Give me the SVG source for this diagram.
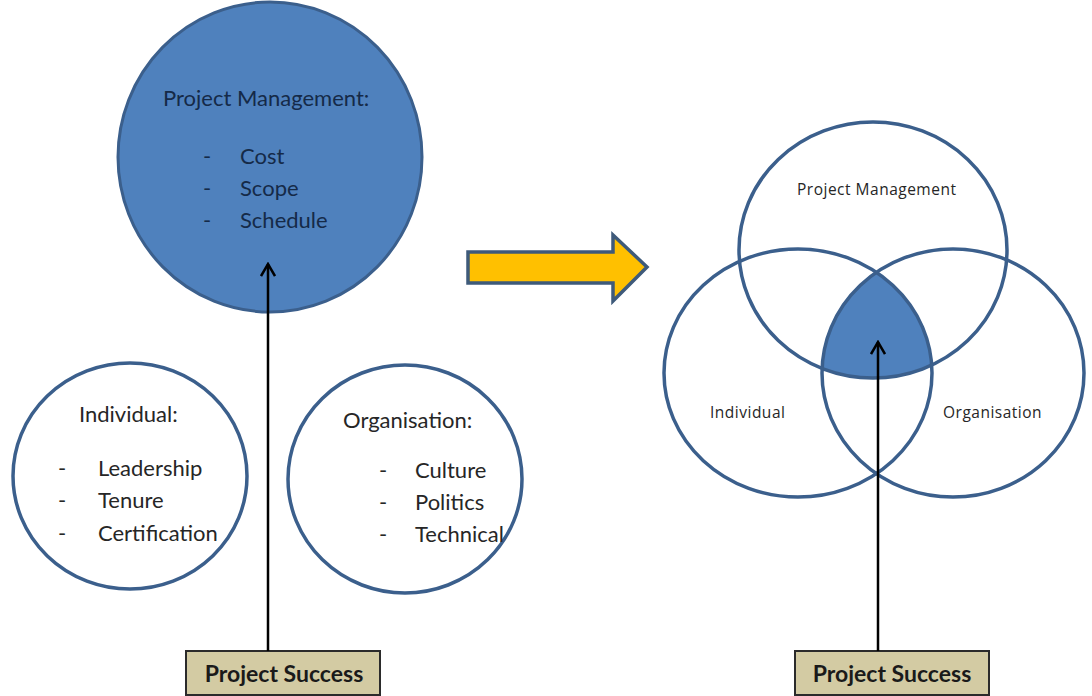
<svg xmlns="http://www.w3.org/2000/svg" width="1092" height="696" viewBox="0 0 1092 696">
  <defs>
    <style>
      .ring { fill: none; stroke: #3b5f8c; stroke-width: 3.5; }
      .solid { fill: #4f81bd; stroke: #3b5f8c; stroke-width: 3; }
      .lbl { font-family: Lato, "Liberation Sans", sans-serif; font-size: 22px; fill: #262626; }
      .lbl-in { font-family: Lato, "Liberation Sans", sans-serif; font-size: 22px; fill: #152a48; }
      .venn { font-family: "Open Sans", "Liberation Sans", sans-serif; font-size: 15.5px; letter-spacing: 0.5px; fill: #262626; }
      .box { fill: #d3cba3; stroke: #2b2b2b; stroke-width: 2; }
      .boxtxt { font-family: Lato, "Liberation Sans", sans-serif; font-size: 23px; font-weight: bold; fill: #1a1a1a; text-anchor: middle; }
      .conn { fill: none; stroke: #000; stroke-width: 2.5; }
    </style>
    <marker id="openArrow" viewBox="0 0 16 16" refX="14" refY="8" markerWidth="16" markerHeight="16" markerUnits="userSpaceOnUse" orient="auto">
      <path d="M2,1 L14,8 L2,15" fill="none" stroke="#000" stroke-width="2.5"/>
    </marker>
    <clipPath id="clipInd"><ellipse cx="798" cy="373" rx="134" ry="124"/></clipPath>
    <clipPath id="clipOrg"><ellipse cx="953" cy="373" rx="131" ry="124"/></clipPath>
  </defs>

  <rect width="1092" height="696" fill="#ffffff"/>

  <!-- Left: separate factors -->
  <g id="pm-circle">
    <ellipse class="solid" cx="270" cy="157" rx="152" ry="155"/>
    <text class="lbl-in" x="163" y="106">Project Management:</text>
    <text class="lbl-in" x="203" y="164">-</text>
    <text class="lbl-in" x="240" y="164">Cost</text>
    <text class="lbl-in" x="203" y="196">-</text>
    <text class="lbl-in" x="240" y="196">Scope</text>
    <text class="lbl-in" x="203" y="228">-</text>
    <text class="lbl-in" x="240" y="228">Schedule</text>
  </g>

  <g id="individual-circle">
    <ellipse class="ring" cx="130" cy="476" rx="117" ry="113"/>
    <text class="lbl" x="79" y="422">Individual:</text>
    <text class="lbl" x="58" y="476">-</text>
    <text class="lbl" x="98" y="476">Leadership</text>
    <text class="lbl" x="58" y="508">-</text>
    <text class="lbl" x="98" y="508">Tenure</text>
    <text class="lbl" x="58" y="541">-</text>
    <text class="lbl" x="98" y="541">Certification</text>
  </g>

  <g id="organisation-circle">
    <ellipse class="ring" cx="405" cy="479" rx="117" ry="114"/>
    <text class="lbl" x="343" y="428">Organisation:</text>
    <text class="lbl" x="379" y="478">-</text>
    <text class="lbl" x="415" y="478">Culture</text>
    <text class="lbl" x="379" y="510">-</text>
    <text class="lbl" x="415" y="510">Politics</text>
    <text class="lbl" x="379" y="542">-</text>
    <text class="lbl" x="415" y="542">Technical</text>
  </g>

  <g id="success-left">
    <rect class="box" x="186" y="651" width="194" height="44"/>
    <text class="boxtxt" x="284" y="682">Project Success</text>
  </g>

  <!-- Transition arrow -->
  <g id="block-arrow">
    <path d="M468,252 L613,252 L613,235 L647,267 L613,301 L613,283 L468,283 Z" fill="#ffc000" stroke="#3e5a7a" stroke-width="3.5" stroke-linejoin="miter"/>
  </g>

  <!-- Right: Venn of the three factors -->
  <g id="venn-overlap">
    <g clip-path="url(#clipInd)">
      <ellipse cx="873" cy="250" rx="134" ry="128" fill="#4f81bd" clip-path="url(#clipOrg)"/>
    </g>
  </g>

  <g id="venn-pm">
    <ellipse class="ring" cx="873" cy="250" rx="134" ry="128"/>
    <text class="venn" x="797" y="195">Project Management</text>
  </g>

  <g id="venn-individual">
    <ellipse class="ring" cx="798" cy="373" rx="134" ry="124"/>
    <text class="venn" x="710" y="418">Individual</text>
  </g>

  <g id="venn-organisation">
    <ellipse class="ring" cx="953" cy="373" rx="131" ry="124"/>
    <text class="venn" x="943" y="418">Organisation</text>
  </g>

  <g id="success-right">
    <rect class="box" x="795" y="651" width="194" height="44"/>
    <text class="boxtxt" x="892" y="682">Project Success</text>
  </g>

  <!-- Connectors -->
  <g id="connectors">
    <line class="conn" x1="268" y1="651" x2="268" y2="264" marker-end="url(#openArrow)"/>
    <line class="conn" x1="878" y1="651" x2="878" y2="342" marker-end="url(#openArrow)"/>
  </g>
</svg>
